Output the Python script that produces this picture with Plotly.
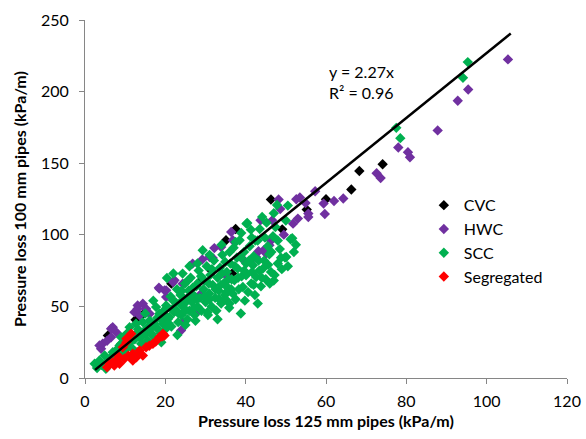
import plotly.graph_objects as go

# ── Data (kPa/m) ──────────────────────────────────────────────────────────────
cvc_x = [74.1, 68.3, 66.3, 60.0, 55.2, 46.3, 49.1, 37.5, 35.1, 36.6, 21.5, 14.4,
         12.6, 5.7, 12.7, 5.0, 28.5, 31.4]
cvc_y = [149.3, 144.6, 131.6, 124.8, 117.6, 124.6, 103.8, 104.1, 96.2, 72.9, 65.9, 44.4,
         40.7, 29.7, 15.7, 8.0, 67.0, 75.2]

hwc_x = [105.3, 95.4, 92.8, 87.8, 78.0, 80.4, 80.9, 72.6, 73.6, 62.0, 64.3, 59.4,
         59.7, 54.9, 55.6, 55.6, 57.3, 48.2, 48.6, 52.6, 53.5, 43.7, 46.6, 53.0,
         51.8, 49.5, 46.3, 45.9, 36.4, 36.8, 44.5, 43.2, 42.4, 39.3, 32.2, 33.9,
         31.8, 29.2, 26.8, 35.1, 22.3, 18.4, 20.2, 18.5, 31.0, 45.1, 28.9, 24.3,
         27.7, 24.3, 13.1, 14.4, 15.2, 16.1, 12.3, 13.6, 20.2, 6.9, 7.8, 4.4,
         4.0, 6.5, 5.5, 3.6, 13.1, 6.5, 21.9, 19.8, 28.5, 23.9, 42.6, 44.7]
hwc_y = [222.5, 201.5, 193.6, 172.9, 161.0, 157.7, 154.2, 143.0, 139.7, 123.6, 125.3, 121.8,
         114.5, 122.2, 114.8, 112.4, 130.4, 124.6, 118.0, 124.8, 126.0, 110.1, 110.1, 111.3,
         107.8, 100.1, 95.9, 92.7, 102.0, 96.2, 89.2, 88.5, 84.1, 82.9, 90.7, 91.5,
         83.8, 82.7, 79.9, 71.7, 68.2, 63.1, 61.2, 62.4, 84.5, 86.9, 58.9, 65.9,
         46.0, 39.0, 50.7, 51.9, 48.4, 44.9, 46.0, 43.7, 56.5, 35.5, 32.0, 23.9,
         20.4, 28.5, 26.0, 22.7, 48.4, 34.4, 67.0, 61.2, 47.7, 33.2, 84.5, 89.2]

scc_x = [2.4, 3.0, 3.6, 4.2, 4.9, 5.2, 5.7, 6.3, 6.9, 7.5, 8.0, 8.6, 9.0, 9.5, 10.0, 10.4,
         11.1, 11.5, 12.0, 12.7, 12.9, 13.6, 14.0, 14.4, 14.8, 15.2, 15.6, 16.1, 16.5, 17.0,
         17.7, 17.7, 18.0, 18.5, 18.8, 19.4, 19.6, 20.0,
         20.2, 20.4, 20.6, 21.0, 21.3, 21.5, 21.9, 22.2, 22.7, 22.9, 23.2, 23.5, 23.8, 24.0,
         24.3, 24.6, 24.9, 25.2, 25.5, 25.8, 26.0, 26.3, 26.6, 27.0, 27.3, 27.7, 28.0, 28.3,
         28.6, 29.0, 29.3, 29.5, 29.8, 30.0,
         30.3, 30.6, 30.9, 31.2, 31.5, 31.8, 32.1, 32.4, 32.7, 33.0, 33.3, 33.6, 33.9, 34.2,
         34.5, 34.8, 35.0, 35.3, 35.6, 35.9, 36.2, 36.5, 36.8, 37.0, 37.2, 37.5, 37.8, 38.0,
         38.3, 38.5, 38.9, 39.0, 39.3, 39.6, 39.8, 40.1, 40.1,
         40.2, 40.4, 40.6, 41.0, 41.3, 41.4, 41.8, 42.0, 42.3, 42.6, 43.0, 43.4, 43.8, 44.1,
         44.3, 44.6, 45.0, 45.2, 45.5, 45.9, 46.3, 46.8, 47.4, 47.8, 48.0, 48.5, 49.0, 49.8,
         50.1, 50.5, 51.2, 52.0, 51.6, 77.5, 78.5, 94.1, 95.3,
         22.0, 26.0, 28.0, 31.0, 34.0, 17.0, 15.0, 11.0, 9.0, 25.0, 27.5, 30.5, 33.0, 36.0,
         38.8, 43.0, 47.0, 23.0, 19.0, 13.0,
         8.5, 9.2, 10.5, 11.0, 12.4, 13.2, 14.2, 15.8, 16.6, 17.3, 18.2, 19.0, 19.9, 20.8, 21.7,
         22.5, 23.3, 24.1, 24.8, 25.6, 26.4, 27.2, 28.0, 28.9, 29.7, 25.0, 26.8, 27.9,
         30.8, 31.6, 32.5, 33.4, 34.1, 34.9, 35.7, 36.4, 37.3, 38.1, 38.9, 39.6, 31.0, 33.8,
         36.0, 37.5, 35.2,
         40.8, 41.6, 42.4, 43.2, 44.0, 44.8, 45.6, 46.4, 47.2, 48.0, 48.8, 42.0, 46.0, 50.5,
         52.5, 41.5, 43.5, 50.0, 47.0]
scc_y = [9.9, 7.0, 12.2, 9.0, 15.7, 6.5, 11.0, 14.0, 18.0, 12.0, 20.0, 22.7, 28.5, 17.0, 25.0, 31.0,
         35.5, 27.0, 20.0, 37.9, 31.0, 28.5, 24.0, 39.0, 33.0, 30.9, 26.0, 40.2, 35.0, 29.0,
         35.5, 49.5, 42.0, 44.9, 31.0, 37.9, 47.0, 34.0,
         50.7, 69.8, 41.0, 42.5, 57.0, 36.0, 54.2, 46.0, 47.2, 62.0, 39.0, 52.0, 58.0, 44.0,
         72.9, 49.0, 66.0, 55.0, 41.0, 61.0, 47.0, 70.0, 53.0, 58.0, 44.0, 64.0, 50.0, 75.0,
         56.0, 47.0, 89.2, 62.0, 68.0, 53.0,
         78.0, 44.0, 59.0, 72.0, 50.0, 65.0, 82.0, 56.0, 47.0, 70.0, 61.0, 77.0, 52.0, 86.0,
         66.0, 58.0, 55.0, 74.0, 63.0, 49.0, 80.0, 69.0, 58.9, 91.0, 68.2, 55.0, 84.0, 76.4,
         62.0, 96.2, 101.3, 71.0, 63.5, 88.0, 54.0, 79.9, 71.7,
         107.8, 108.2, 60.0, 92.0, 103.6, 66.0, 78.7, 85.0, 58.0, 70.5, 96.0, 75.0, 64.0, 112.5,
         76.4, 82.0, 69.0, 108.5, 92.0, 86.4, 74.0, 99.0, 105.4, 120.8, 80.0, 90.0, 76.0, 84.1,
         84.5, 120.4, 96.9, 88.0, 97.6, 174.7, 167.5, 209.7, 220.6,
         73.0, 78.0, 80.0, 86.0, 93.0, 54.0, 45.0, 32.0, 24.0, 37.0, 40.0, 46.0, 41.0, 52.0,
         45.0, 52.0, 68.0, 30.0, 25.0, 18.0,
         16.0, 19.0, 21.0, 24.0, 27.0, 34.0, 29.0, 36.0, 31.0, 38.0, 34.0, 41.0, 44.0, 38.0, 48.0,
         53.0, 45.0, 61.0, 52.0, 68.0, 58.0, 49.0, 66.0, 71.0, 57.0, 47.0, 63.0, 55.0,
         66.0, 76.0, 62.0, 55.0, 73.0, 81.0, 69.0, 62.0, 78.0, 70.0, 84.0, 75.0, 55.0, 65.0,
         88.0, 95.0, 60.0,
         82.0, 74.0, 96.0, 82.0, 70.0, 98.0, 79.0, 88.0, 72.0, 96.0, 84.0, 65.0, 66.0, 78.0,
         93.0, 98.0, 104.0, 110.0, 115.0]

seg_x = [11.5, 10.3, 9.4, 8.2, 6.9, 6.1, 11.9, 13.6, 15.2, 16.9, 18.5, 19.4, 9.8, 8.6,
         7.3, 11.9, 14.4, 19.8, 10.3, 19.2, 12.8, 16.0, 17.6, 7.8, 10.8, 5.5]
seg_y = [30.9, 25.0, 21.5, 15.7, 11.0, 9.9, 16.9, 19.2, 21.5, 23.9, 28.5, 30.9, 13.4, 9.9,
         8.7, 12.2, 15.7, 29.7, 27.4, 29.0, 14.5, 22.5, 25.5, 12.5, 15.5, 7.5]

slope = 2.27
trend_x = [2.5, 106]
trend_y = [slope * v for v in trend_x]

FONT = "Lato, 'Open Sans', sans-serif"

fig = go.Figure()
series = [
    ("CVC", cvc_x, cvc_y, "#000000"),
    ("HWC", hwc_x, hwc_y, "#7030A0"),
    ("SCC", scc_x, scc_y, "#00B050"),
    ("Segregated", seg_x, seg_y, "#FF0000"),
]
for name, xs, ys, col in series:
    fig.add_trace(go.Scatter(
        x=xs, y=ys, mode="markers", name=name,
        marker=dict(symbol="diamond", size=8, color=col, line=dict(width=0)),
    ))

fig.add_trace(go.Scatter(
    x=trend_x, y=trend_y, mode="lines", showlegend=False,
    line=dict(color="black", width=2.5),
))

fig.add_annotation(
    x=60.2, y=222, xref="x", yref="y", xanchor="left", yanchor="top",
    text="y = 2.27x<br>R² = 0.96", showarrow=False, align="left",
    font=dict(family=FONT, size=16, color="#000000"),
)

axis_common = dict(
    showgrid=False, zeroline=False, showline=True, linecolor="#868686", linewidth=1,
    ticks="outside", ticklen=5, tickcolor="#868686", automargin=False,
    tickfont=dict(family=FONT, size=16, color="#000000"),
)

fig.update_layout(
    width=586, height=439,
    margin=dict(l=85, r=19, t=20, b=61),
    plot_bgcolor="white", paper_bgcolor="white",
    xaxis=dict(range=[0, 120], dtick=20, ticklabelstandoff=4, **axis_common,
               title=dict(text="<b>Pressure loss 125 mm pipes (kPa/m)</b>",
                          font=dict(family=FONT, size=16, color="#000000"), standoff=6)),
    yaxis=dict(range=[0, 250], dtick=50, ticklabelstandoff=7, **axis_common,
               title=dict(text="<b>Pressure loss 100 mm pipes (kPa/m)</b>",
                          font=dict(family=FONT, size=16, color="#000000"), standoff=10)),
    legend=dict(x=0.703, y=0.53, xanchor="left", yanchor="top",
                font=dict(family=FONT, size=16, color="#000000"),
                bgcolor="rgba(0,0,0,0)", itemwidth=30, tracegroupgap=0),
    showlegend=True,
)

# the page body has a default 8px margin; drop it so the figure sits at 0,0
fig.write_html("out.html", config={"displayModeBar": False},
               post_script="document.body.style.margin='0';")
